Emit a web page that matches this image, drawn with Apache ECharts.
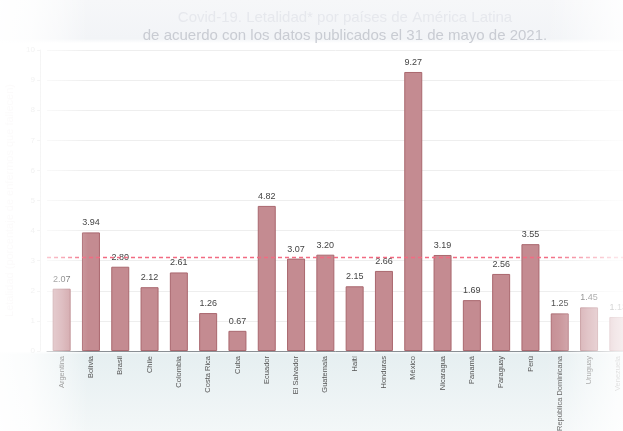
<!DOCTYPE html>
<html>
<head>
<meta charset="utf-8">
<script src="https://cdn.jsdelivr.net/npm/echarts@6/dist/echarts.min.js"></script>
<style>
  html, body { margin: 0; padding: 0; }
  #main { width: 623px; height: 431px; }
</style>
</head>
<body>
<div id="main"></div>
<script>
// 数据
const paises = ["Argentina", "Bolivia", "Brasil", "Chile", "Colombia", "Costa Rica", "Cuba", "Ecuador",
  "El Salvador", "Guatemala", "Haití", "Honduras", "México", "Nicaragua", "Panamá", "Paraguay",
  "Perú", "República Dominicana", "Uruguay", "Venezuela"];
const letalidad = [2.07, 3.94, 2.80, 2.12, 2.61, 1.26, 0.67, 4.82, 3.07, 3.20, 2.15, 2.66, 9.27,
  3.19, 1.69, 2.56, 3.55, 1.25, 1.45, 1.13];
const referencia = [3.13];
const yTicks = [0, 10, 1]; // min, max, interval

const myChart = echarts.init(document.querySelector("#main"));
const option = {
  backgroundColor: {
    type: "linear", x: 0, y: 0, x2: 0, y2: 1,
    colorStops: [
      { offset: 0, color: "#f6f7f9" },
      { offset: 0.09, color: "#f2f4f7" },
      { offset: 0.1, color: "#ffffff" },
      { offset: 0.815, color: "#ffffff" },
      { offset: 0.822, color: "#e6eff1" },
      { offset: 1, color: "#f3f7f8" },
    ],
  },
  title: {
    text: "Covid-19. Letalidad* por países de América Latina",
    subtext: "de acuerdo con los datos publicados el 31 de mayo de 2021.",
    left: 340,
    top: 5,
    textAlign: "center",
    itemGap: 3,
    textStyle: { color: "#e6e8ed", fontSize: 15, fontWeight: "normal", fontFamily: "Liberation Sans" },
    subtextStyle: { color: "#c9ccd3", fontSize: 15, fontFamily: "Liberation Sans" },
  },
  grid: { left: 47, top: 50, width: 586, height: 301, outerBoundsMode: "none" },
  xAxis: {
    type: "category",
    data: paises,
    axisLine: { lineStyle: { color: "#8a8f94" } },
    axisTick: { show: false },
    axisLabel: {
      rotate: 90, fontSize: 7.5, color: "#555", margin: 5,
      fontFamily: "Liberation Sans", interval: 0,
    },
  },
  yAxis: {
    type: "value",
    min: yTicks[0],
    max: yTicks[1],
    interval: yTicks[2],
    offset: 7,
    name: "Letalidad (porcentaje de enfermos que fallecen)",
    nameLocation: "middle",
    nameGap: 20,
    nameTextStyle: { color: "#dccdd0", fontSize: 11, fontFamily: "Liberation Sans" },
    axisLine: { show: true, lineStyle: { color: "#ddd" } },
    axisTick: { show: true, length: 3, lineStyle: { color: "#ddd" } },
    axisLabel: { fontSize: 8, color: "#bbb", margin: 5 },
    splitLine: { lineStyle: { color: "#eeeeee" } },
  },
  series: [
    {
      type: "bar",
      data: letalidad,
      barWidth: 18,
      itemStyle: { color: "#c48b91", borderColor: "#a9676e", borderWidth: 1 },
      label: {
        show: true, position: "top", distance: 5, fontSize: 9, color: "#444",
        fontFamily: "Liberation Sans",
        formatter: (p) => p.value.toFixed(2),
      },
      markLine: {
        silent: true,
        symbol: ["none", "none"],
        label: { show: false },
        lineStyle: { color: "#f26b82", type: [4, 3], width: 1.3, opacity: 1 },
        emphasis: { disabled: true },
        data: [{ yAxis: referencia[0] }],
      },
    },
  ],
  graphic: [
    {
      type: "rect", z: 100, silent: true,
      shape: { x: 0, y: 0, width: 88, height: 431 },
      style: {
        fill: {
          type: "linear", x: 0, y: 0, x2: 1, y2: 0,
          colorStops: [
            { offset: 0, color: "rgba(255,255,255,0.95)" },
            { offset: 0.35, color: "rgba(255,255,255,0.82)" },
            { offset: 0.7, color: "rgba(255,255,255,0.45)" },
            { offset: 1, color: "rgba(255,255,255,0)" },
          ],
        },
      },
    },
    {
      type: "rect", z: 100, silent: true,
      shape: { x: 545, y: 0, width: 78, height: 431 },
      style: {
        fill: {
          type: "linear", x: 0, y: 0, x2: 1, y2: 0,
          colorStops: [
            { offset: 0, color: "rgba(255,255,255,0)" },
            { offset: 0.18, color: "rgba(255,255,255,0.1)" },
            { offset: 0.55, color: "rgba(255,255,255,0.5)" },
            { offset: 0.9, color: "rgba(255,255,255,0.8)" },
            { offset: 1, color: "rgba(255,255,255,0.85)" },
          ],
        },
      },
    },
  ],
};
myChart.setOption(option);
</script>
</body>
</html>
